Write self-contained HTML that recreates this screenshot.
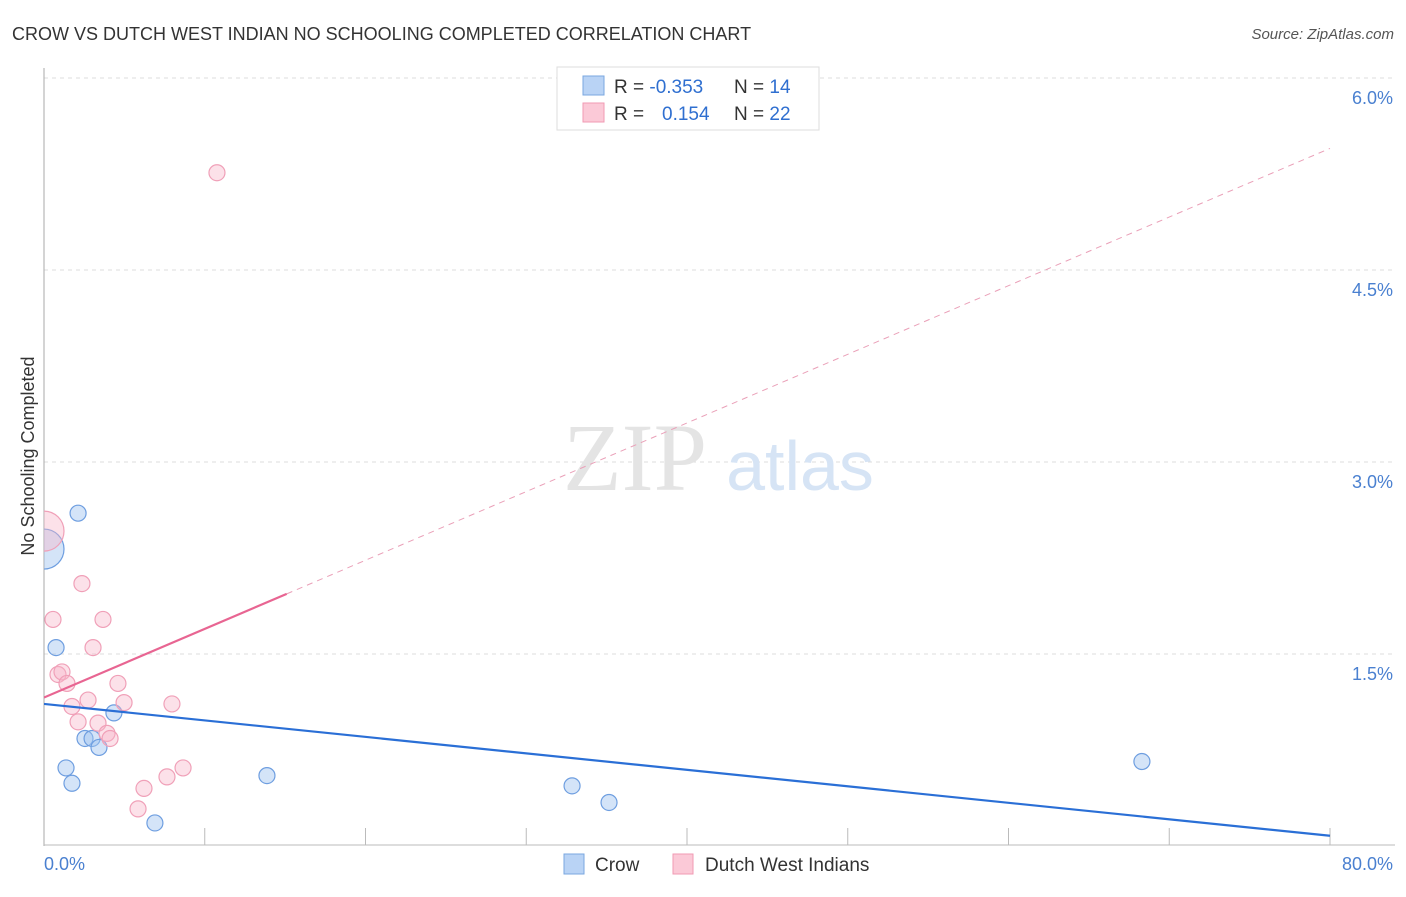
<!DOCTYPE html>
<html><head><meta charset="utf-8"><style>
body{margin:0;background:#fff;font-family:"Liberation Sans",sans-serif}
</style></head><body>
<svg width="1406" height="892" xmlns="http://www.w3.org/2000/svg" font-family="Liberation Sans, sans-serif">
<text x="12" y="40" font-size="18" fill="#333">CROW VS DUTCH WEST INDIAN NO SCHOOLING COMPLETED CORRELATION CHART</text>
<text x="1394" y="39" font-size="15" fill="#555" font-style="italic" text-anchor="end">Source: ZipAtlas.com</text>
<g id="grid"></g>
<text x="635" y="490" font-size="96" fill="#e4e4e4" font-family="Liberation Serif, serif" text-anchor="middle">ZIP</text>
<text x="800" y="490" font-size="70" fill="#d6e4f5" text-anchor="middle">atlas</text>
<g id="marks"></g>
<text x="34" y="456" font-size="18" fill="#333" transform="rotate(-90 34 456)" text-anchor="middle">No Schooling Completed</text>
<g>
<rect x="557" y="67" width="262" height="63" fill="#fff" stroke="#ddd"/>
<rect x="583" y="76" width="21" height="19" fill="#b9d3f5" stroke="#7aa7e0"/>
<rect x="583" y="103" width="21" height="19" fill="#fbc9d7" stroke="#f09ab3"/>
<text x="614" y="93" font-size="19" fill="#333">R = <tspan fill="#2f6fd0">-0.353</tspan></text>
<text x="734" y="93" font-size="19" fill="#333">N = <tspan fill="#2f6fd0">14</tspan></text>
<text x="614" y="120" font-size="19" fill="#333">R = <tspan fill="#2f6fd0" x="662">0.154</tspan></text>
<text x="734" y="120" font-size="19" fill="#333">N = <tspan fill="#2f6fd0">22</tspan></text>
</g>
<g>
<rect x="564" y="854" width="20" height="20" fill="#b9d3f5" stroke="#7aa7e0"/>
<text x="595" y="871" font-size="19" fill="#333">Crow</text>
<rect x="673" y="854" width="20" height="20" fill="#fbc9d7" stroke="#f09ab3"/>
<text x="705" y="871" font-size="19" fill="#333">Dutch West Indians</text>
</g>
</svg>
<script>
const xTicks=[0,10,20,30,40,50,60,70,80];
const yTicks=[1.5,3.0,4.5,6.0];
const yTickLabels=["1.5%","3.0%","4.5%","6.0%"];
const crowX=[0,2.12,0.75,4.35,2.55,2.99,3.42,1.37,1.74,6.9,13.87,32.85,35.15,68.3];
const crowY=[2.32,2.60,1.55,1.04,0.84,0.84,0.77,0.61,0.49,0.18,0.55,0.47,0.34,0.66];
const crowR=[20,8,8,8,8,8,8,8,8,8,8,8,8,8];
const dwiX=[0,10.76,2.36,0.56,3.67,3.05,0.87,1.12,1.43,4.6,2.74,4.98,7.96,1.74,2.12,3.36,3.92,4.11,8.65,7.65,6.22,5.85];
const dwiY=[2.46,5.26,2.05,1.77,1.77,1.55,1.34,1.36,1.27,1.27,1.14,1.12,1.11,1.09,0.97,0.96,0.88,0.84,0.61,0.54,0.45,0.29];
const dwiR=[20,8,8,8,8,8,8,8,8,8,8,8,8,8,8,8,8,8,8,8,8,8];
const crowTrend=[1.11,0.08];
const dwiTrend=[1.16,5.45];
const dwiSolidEnd=15.1;
const NS="http://www.w3.org/2000/svg";
const X=v=>44+v*(1286/80), Y=v=>846-v*128;
function mk(t,a,p){const e=document.createElementNS(NS,t);for(const k in a)e.setAttribute(k,a[k]);p.appendChild(e);return e;}
const g=document.getElementById('grid'),m=document.getElementById('marks'),svg=document.querySelector('svg');
const defs=mk('defs',{},svg);const cp=mk('clipPath',{id:'pc'},defs);mk('rect',{x:44,y:60,width:1360,height:786},cp);
m.setAttribute('clip-path','url(#pc)');
yTicks.forEach((v,i)=>{
 const l=mk('line',{x1:44,x2:1395,y1:Y(v),y2:Y(v),stroke:'#ddd','stroke-dasharray':'4,4'},g);
 
 
 const t=mk('text',{x:1393,y:Y(v)+26,'font-size':18,fill:'#4a80d0','text-anchor':'end'},g);t.textContent=yTickLabels[i];
 
 
});
const ax=mk('line',{x1:44,x2:44,y1:68,y2:846,stroke:'#aaa'},g);


const bx=mk('line',{x1:44,x2:1395,y1:845,y2:845,stroke:'#bbb'},g);


for(let v=10;v<=80;v+=10){
 const t=mk('line',{x1:X(v),x2:X(v),y1:828,y2:845,stroke:'#bbb'},g);
 
 
}
const x0=mk('text',{x:44,y:870,'font-size':18,fill:'#4a80d0'},g);x0.textContent='0.0%';


const x1=mk('text',{x:1393,y:870,'font-size':18,fill:'#4a80d0','text-anchor':'end'},g);x1.textContent='80.0%';


crowX.forEach((v,i)=>{
 const c=mk('circle',{cx:X(v),cy:Y(crowY[i]),r:crowR[i],fill:'rgba(160,195,240,0.45)',stroke:'#6e9ee0','stroke-width':1.2},m);
 
 
});
dwiX.forEach((v,i)=>{
 const c=mk('circle',{cx:X(v),cy:Y(dwiY[i]),r:dwiR[i],fill:'rgba(248,180,200,0.4)',stroke:'#f0a0b8','stroke-width':1.2},m);
 
 
});
const l1=mk('line',{x1:X(0),y1:Y(crowTrend[0]),x2:X(80),y2:Y(crowTrend[1]),stroke:'#2a6fd6','stroke-width':2.2},m);


const ye=dwiTrend[0]+(dwiTrend[1]-dwiTrend[0])*dwiSolidEnd/80;
const l2=mk('line',{x1:X(0),y1:Y(dwiTrend[0]),x2:X(dwiSolidEnd),y2:Y(ye),stroke:'#e86592','stroke-width':2.2},m);


const l3=mk('line',{x1:X(dwiSolidEnd),y1:Y(ye),x2:X(80),y2:Y(dwiTrend[1]),stroke:'#eaa0b8','stroke-width':1,'stroke-dasharray':'6,5'},m);


</script>
</body></html>
